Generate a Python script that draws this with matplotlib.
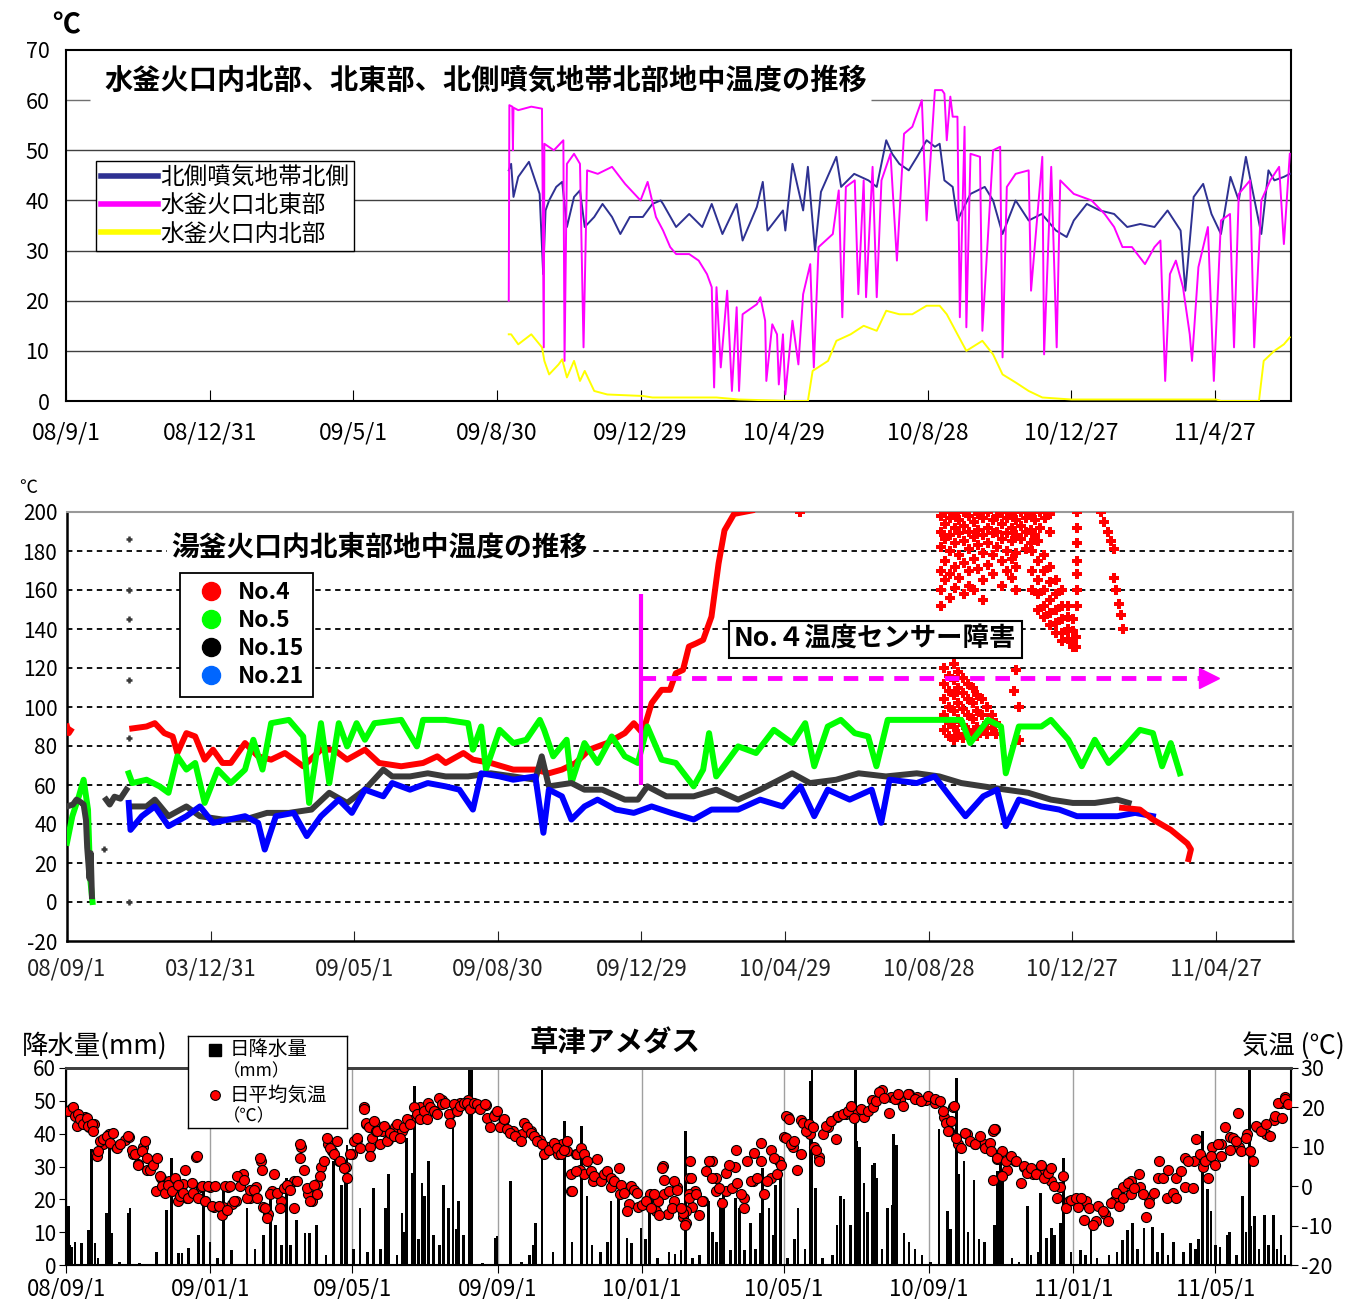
import matplotlib.pyplot as plt
import numpy as np
from matplotlib.lines import Line2D

plt.rcParams['font.family'] = ['Noto Sans CJK JP', 'DejaVu Sans']
plt.rcParams['axes.unicode_minus'] = False

# x values are days counted from 2008-09-01

# ---- panel 1: 水釜 (day, degC)
nw_north = [(373, 46), (375, 47.3), (377, 40.7), (381, 44.7), (390, 47.7), (399, 41.3), (402, 25.3), (404, 38),
            (407, 40), (413, 42.7), (418, 43.7), (422, 34.7), (428, 40.7), (433, 42), (437, 34.7), (445, 36.7),
            (452, 39.3), (460, 36.7), (467, 33.3), (475, 36.7), (486, 36.7), (494, 39.3), (501, 40), (503, 39.3),
            (514, 34.7), (525, 37.3), (536, 34.7), (544, 39.3), (553, 33.3), (565, 39.3), (570, 32), (582, 38.7),
            (587, 43.7), (591, 34), (604, 38), (606, 34), (612, 47.3), (621, 38), (625, 46.7), (631, 30),
            (636, 41.7), (649, 48.7), (653, 42.7), (664, 45.3), (676, 44), (683, 42.7), (691, 52), (696, 49.3),
            (702, 47.3), (710, 46), (717, 48.7), (725, 52), (732, 50.7), (736, 51.3), (740, 44), (747, 42.7),
            (751, 36), (762, 41.3), (774, 42.7), (781, 40), (789, 33.3), (800, 40), (811, 36), (822, 37.3),
            (834, 34), (843, 32.7), (849, 36), (860, 39.3), (871, 38), (883, 37.3), (894, 34.7), (905, 35.3),
            (917, 34.7), (928, 38), (939, 34), (943, 22), (950, 40.7), (958, 43.3), (965, 37.3), (973, 33.3),
            (981, 44.7), (988, 40), (994, 48.7), (999, 42.7), (1007, 33.3), (1013, 46), (1018, 44), (1026, 44.7),
            (1031, 45.3)]
mizugama_ne = [(373, 20), (373.5, 59), (376, 58.7), (376.5, 50), (377, 58.5), (381, 58), (392, 58.7), (401, 58.3),
               (402.5, 10.7), (403, 51.3), (411, 50), (419, 52), (420, 8), (422, 47.3), (428, 49.3), (433, 47.3),
               (436, 10.7), (439, 46), (448, 45.3), (460, 46.7), (471, 43.3), (484, 40), (490, 43.7), (497, 36.7),
               (503, 34), (509, 30.7), (514, 29.3), (525, 29.3), (533, 28), (540, 25.3), (544, 22.7), (546, 2.7),
               (548, 22.7), (551.6, 6.7), (557, 22), (561, 2), (565, 18.7), (567, 2), (570, 17.3), (582, 19.3),
               (585, 20.7), (589, 16), (590, 4), (595, 15.3), (599, 13.3), (600.5, 3.3), (604, 13.3), (606, 1.3),
               (612, 16), (617, 7.3), (621, 21.3), (627, 27.3), (630, 6.7), (634, 30.7), (646, 33.3), (651, 42),
               (654, 16.7), (657, 42.7), (664.5, 44), (667.5, 21.3), (672, 44), (674, 20.7), (679.5, 46.7),
               (683, 20.7), (687, 44), (694.6, 49.3), (700, 28), (706, 53.3), (713, 54.7), (721, 60), (725, 36),
               (732, 62), (738, 62), (740, 61.3), (742, 52), (745, 60.7), (747, 56.7), (751, 56.7), (753, 16.7),
               (757, 54.7), (758.5, 14.7), (762, 49.3), (770, 48.7), (772, 14), (781, 50), (787, 50.7), (789, 8.7),
               (792.6, 42.7), (800, 45.3), (811, 46), (813, 22), (822.5, 48.7), (824, 9.3), (830, 46.7),
               (834.6, 10.7), (837.6, 44), (849, 41.3), (864, 40), (875, 37.3), (883, 34.7), (890, 30.7),
               (898, 30.7), (909, 27.3), (917, 30.7), (922, 32), (926, 4), (930, 25.3), (935, 28), (941, 22.7),
               (946.7, 13.3), (948.6, 8), (954, 26.7), (962, 34.7), (967, 4), (973, 36), (980.6, 37.3),
               (984, 10.7), (988, 41.3), (997.5, 44), (1001, 10.7), (1007, 40), (1014.5, 44), (1022, 46.7),
               (1026, 31.3), (1031, 49.3)]
mizugama_in = [(373, 13.3), (375, 13.3), (381, 11.3), (392, 13.3), (401, 10.7), (403, 8), (407, 5.3), (415, 7.3),
               (418, 8.3), (422, 4.7), (428, 8), (433, 4), (437, 6), (445, 2), (456, 1.3), (486, 1), (494, 0.7),
               (548, 0.7), (567, 0.3), (612, 0), (625, 0), (629, 6), (642, 8), (649, 12), (661, 13.3), (672, 15),
               (683, 14), (691, 18), (702, 17.3), (713, 17.3), (725, 19), (736, 19), (742, 17.3), (751, 13.3),
               (758.5, 10), (772, 12), (781, 9.3), (789, 5.3), (800, 3.7), (811, 2), (822.5, 0.7), (847, 0.3),
               (969, 0.3), (973, 0), (1005, 0), (1009, 8), (1018, 10), (1026, 11.3), (1031, 12.7)]
p1_names = ['北側噴気地帯北側', '水釜火口北東部', '水釜火口内北部']
p1_ticks = ['08/9/1', '08/12/31', '09/5/1', '09/8/30', '09/12/29', '10/4/29', '10/8/28', '10/12/27', '11/4/27']

# ---- panel 2: 湯釜 (day, degC)
no4_start = [(0, 90), (1.5, 86.6), (3, 88)]
no4 = [(55, 89), (67, 90), (74, 91.7), (82, 86.6), (89, 84.9), (93, 76.4), (100.6, 86.6), (108, 84.9), (116, 73),
       (123, 78.1), (131, 71.3), (138, 71.3), (150, 81.5), (161, 74.7), (172, 73), (183.6, 76.4), (199, 69.6),
       (214, 78.1), (225, 78.1), (236, 73), (251, 78.1), (263, 71.3), (281.6, 69.6), (300, 71.3), (312, 74.7),
       (319, 71.3), (334, 76.4), (342, 73), (357, 71.3), (376, 67.9), (394.6, 67.9), (406, 66), (417, 67.9),
       (428.6, 71.3), (440, 78.1), (455, 81.5), (470, 86.6), (477.6, 91.7), (485, 86.6), (492.6, 102),
       (501, 108.8), (508, 108.8), (513, 117.3), (519, 119), (524, 131), (530, 132.6), (536, 134.4),
       (543, 146.3), (549, 173.6), (554, 190.6), (562, 199), (577, 200.8)]
no4_end = [(889, 48.3), (904, 47.4), (915, 42.3), (930, 37), (938, 33), (944, 30), (947, 27), (945, 22)]
no4_faulty = [(618, 200), (736, 198), (736, 190), (736, 182), (736, 170), (736, 160), (736, 152), (740, 200),
              (740, 194), (740, 186), (740, 175), (740, 165), (744, 197), (744, 188), (744, 180), (744, 168),
              (744, 156), (748, 199), (748, 192), (748, 184), (748, 172), (748, 161), (752, 196), (752, 189),
              (752, 178), (752, 166), (756, 200), (756, 193), (756, 185), (756, 174), (756, 158), (760, 198),
              (760, 190), (760, 181), (760, 170), (760, 162), (764, 195), (764, 187), (764, 176), (764, 160),
              (768, 199), (768, 191), (768, 183), (768, 171), (772, 197), (772, 188), (772, 179), (772, 165),
              (772, 155), (776, 200), (776, 192), (776, 184), (776, 173), (780, 196), (780, 189), (780, 178),
              (780, 168), (784, 198), (784, 190), (784, 182), (788, 200), (788, 194), (788, 186), (788, 175),
              (788, 162), (792, 197), (792, 189), (792, 180), (792, 170), (796, 199), (796, 192), (796, 185),
              (796, 176), (796, 166), (800, 196), (800, 188), (800, 179), (800, 172), (800, 160), (804, 200),
              (804, 193), (804, 186), (808, 197), (808, 190), (808, 181), (812, 199), (812, 191), (812, 184),
              (816, 196), (816, 188), (820, 200), (820, 192), (824, 197), (828, 199), (828, 190),
              (813, 189), (813, 180), (813, 170), (813, 160), (818, 185), (818, 175), (818, 165), (818, 158),
              (818, 150), (823, 178), (823, 170), (823, 160), (823, 152), (823, 146), (828, 172), (828, 164),
              (828, 155), (828, 148), (828, 142), (833, 165), (833, 158), (833, 150), (833, 143), (833, 138),
              (838, 160), (838, 152), (838, 145), (838, 138), (838, 134), (843, 152), (843, 146), (843, 140),
              (843, 135), (848, 145), (848, 139), (848, 133), (848, 131), (850, 136), (850, 131),
              (851, 200), (851, 192), (851, 184), (851, 175), (851, 168), (851, 160), (851, 152),
              (871, 200), (874, 195), (877, 190), (880, 185), (882, 181), (882, 166), (884, 160), (886, 153),
              (888, 147), (890, 140),
              (739, 120), (739, 112), (739, 104), (739, 96), (739, 88), (743, 116), (743, 108), (743, 100),
              (743, 92), (743, 85), (747, 122), (747, 114), (747, 106), (747, 98), (747, 90), (747, 83),
              (751, 118), (751, 110), (751, 102), (751, 94), (751, 86), (755, 115), (755, 107), (755, 99),
              (755, 91), (755, 84), (759, 112), (759, 104), (759, 96), (759, 88), (763, 110), (763, 102),
              (763, 94), (763, 86), (767, 106), (767, 98), (767, 90), (767, 85), (771, 104), (771, 96), (771, 88),
              (775, 100), (775, 92), (775, 86), (779, 96), (779, 89), (783, 92), (783, 86),
              (800, 119), (798, 108), (802, 100), (802, 83)]
no5_start = [(0, 30.4), (4.5, 44), (10, 54.2), (14, 62.7), (17.7, 47.4), (19.6, 11.6), (21.5, 0)]
no5 = [(52, 66), (55, 61), (67, 62.7), (78, 59.3), (85.5, 56), (93, 74.7), (100.6, 67.9), (108, 71.3), (116, 50.8),
       (127, 67.9), (138, 61), (150, 67.9), (157, 83.2), (164.7, 67.9), (172, 91.7), (187, 93.4), (199, 84.9),
       (204, 50.8), (214, 91.7), (221, 61), (229, 91.7), (236, 79.8), (244, 91.7), (251, 83.2), (259, 91.7),
       (281.6, 93.4), (294.8, 79.8), (300, 93.4), (319, 93.4), (338, 91.7), (342, 78.1), (349, 90), (353, 67.9),
       (364.5, 88.3), (376, 81.5), (387, 83.2), (398.4, 93.4), (402, 88.3), (409.7, 74.7), (421, 83.2), (425, 61),
       (436, 81.5), (447, 71.3), (459, 84.9), (470, 74.7), (481, 71.3), (489, 90), (501, 73), (513, 71.3),
       (528, 59.3), (536, 67.9), (541, 86.6), (547, 64.4), (565.5, 79.8), (580.6, 76.4), (595.6, 88.3),
       (611, 81.5), (622, 91.7), (629.6, 69.6), (641, 90), (652, 93.4), (663.7, 86.6), (675, 84.9), (682, 69.6),
       (691.5, 93.4), (716, 93.4), (738.5, 93.4), (753.5, 93.4), (761, 81.5), (776, 93.4), (787, 90), (791, 66),
       (802, 90), (821, 90), (829, 93.4), (843.7, 83.2), (855, 69.6), (866, 83.2), (877.6, 71.3), (889, 78.1),
       (904, 88.3), (915, 86.6), (922.7, 69.6), (930, 81.5), (937.7, 66)]
no15_start = [(0, 49), (5, 50), (8, 52.5), (12, 51), (14, 50), (16, 42), (17, 28), (18, 20), (19, 12), (20, 25), (21, 3)]
no15_early = [(33, 52.5), (36, 50), (40, 54), (45, 53), (50, 57.6)]
no15_odd = [(52, 186), (52, 160), (52, 145), (52, 114), (52, 84), (52, 0), (31, 27)]
no15 = [(55, 49), (67, 49), (74, 52.5), (85.5, 44), (100.6, 49), (112, 44), (131, 42.3), (150, 42.3), (168.5, 45.7),
        (187, 45.7), (206, 47.4), (221, 56), (236, 50.8), (251, 57.6), (266.5, 67.9), (274, 64.4), (289, 64.4),
        (304, 66), (319, 64.4), (338, 64.4), (357, 66), (376, 64.4), (394.6, 62.7), (400, 74.7), (406, 59.3),
        (425, 61), (436, 57.6), (451, 57.6), (470, 52.5), (481, 52.5), (489, 59.3), (505, 54.2), (528, 54.2),
        (547, 57.6), (565.5, 52.5), (584, 57.6), (611, 66), (626, 61), (648, 62.7), (667, 66), (690, 64.4),
        (716, 66), (735, 64.4), (753.5, 61), (772, 59.3), (791, 57.6), (810, 56), (829, 52.5), (847.5, 50.8),
        (866, 50.8), (885, 52.5), (894.5, 50.8)]
no21 = [(52, 50.8), (53.5, 37), (63, 44), (74, 49), (85.5, 38.9), (100.6, 44), (112, 49), (123, 40.6), (150, 44),
        (161, 40.6), (166.6, 26.9), (176, 44), (191, 45.7), (202, 33.8), (214, 44), (229, 52.5), (240, 45.7),
        (251, 57.6), (266.5, 54.2), (274, 61), (289, 57.6), (304, 61), (319, 59.3), (330.6, 57.6), (342, 47.4),
        (349, 66), (364.5, 64.4), (376, 62.7), (394.6, 64.4), (401.4, 35.5), (406, 57.6), (417, 54.2), (425, 42.3),
        (436, 49), (447, 52.5), (462.5, 47.4), (477.6, 45.7), (492.6, 49), (509, 45.7), (528, 42.3), (543, 47.4),
        (565.5, 47.4), (584, 52.5), (603, 49), (618, 59.3), (629.6, 44), (641, 57.6), (659.5, 52.5), (678, 57.6),
        (686, 40.6), (693, 62.7), (716, 61), (731, 64.4), (746, 52.5), (757, 44), (772, 54.2), (783.6, 57.6),
        (791, 38.9), (802, 52.5), (821, 49), (836, 47.4), (851, 44), (866, 44), (885, 44), (900, 45.7), (915, 44)]
p2_names = ['No.4', 'No.5', 'No.15', 'No.21']
p2_ticks = ['08/09/1', '03/12/31', '09/05/1', '09/08/30', '09/12/29', '10/04/29', '10/08/28', '10/12/27', '11/04/27']
fault_start = 484
fault_level = 115

# ---- panel 3: 草津アメダス
rain = [(2, 17.9), (3, 6), (5, 5.6), (7.6, 7.1), (13.3, 6.6), (18.9, 10.7), (20, 3), (21.7, 35.2), (24.5, 6.6),
        (27, 2), (34.4, 15.8), (36.7, 37.2), (38.6, 9.7), (45, 1), (52.7, 15.8), (54, 17.3), (62, 0.7), (76.7, 4),
        (85.2, 16.8), (89.4, 32.7), (95, 3.6), (98, 3.6), (103.5, 5.1), (112, 9.2), (116.2, 25.5), (121.9, 7.1),
        (128, 2), (133, 23), (140, 4.5), (153, 17.3), (160, 5), (167, 9.2), (172.7, 21.4), (177, 12.2), (182, 6),
        (186.7, 26.5), (190, 6), (195, 13.8), (202, 9.7), (206, 9.7), (212, 12.2), (220, 3), (226, 31.6),
        (233, 24.5), (236, 26), (237.6, 36.7), (243, 5), (248.8, 17.3), (255, 4), (260, 23.5), (266, 5),
        (270, 17.3), (272.8, 27.6), (280, 3), (284, 15.8), (286, 10), (288, 38.8), (292.6, 28), (294.8, 54.6),
        (298, 8), (301, 25), (303, 21), (306.7, 31.6), (311, 9), (316, 6), (319.3, 24.5), (323.6, 17.3),
        (327.3, 47), (330, 11), (332, 19.4), (336, 9), (341, 75), (342, 70), (343, 65), (352, 0.5), (363, 8.2),
        (364.5, 8.7), (375.8, 25.5), (385, 1), (392, 3), (395, 6), (397, 12.8), (402.6, 65), (412, 4),
        (421.5, 43.9), (428, 7.1), (436, 42.3), (440.7, 20.9), (445, 6), (452, 4), (458, 7), (461, 19.4),
        (467.5, 22.4), (474.6, 8.2), (478, 6.6), (486.4, 11.2), (490, 8), (493.7, 17.3), (500, 2), (510, 4),
        (515, 3.5), (520, 4.5), (524, 40.8), (530, 2), (536, 3), (543.6, 19.4), (547, 10), (550, 7),
        (553.5, 20.4), (556.3, 22.4), (562, 4.5), (566, 20.4), (569.8, 17.3), (574, 4.5), (579, 12.8), (583, 5),
        (587.4, 15.8), (588.8, 29.6), (594.4, 17.3), (598, 9), (600, 24.5), (604.3, 26.5), (610, 2), (616, 8),
        (619, 17.3), (625, 5), (629.7, 56), (631, 62), (634, 23.5), (640, 2), (648, 3), (652, 12.2), (655, 20.9),
        (658, 20), (663.6, 12.2), (667.8, 62), (669, 37.8), (671, 36), (674.8, 25), (678, 16), (682, 30.6),
        (684, 31), (686, 26.5), (690, 5), (694.5, 17.3), (698.7, 18.4), (700, 39.8), (702.5, 36.7), (708.7, 9.7),
        (713, 7), (718, 5), (724, 3), (731, 1), (738.3, 41.3), (745.4, 16.3), (748, 11), (753.3, 57),
        (755.2, 27.6), (759.4, 31.6), (763, 10), (768, 26), (772, 8), (777, 7), (785, 12.2), (787.7, 28.6),
        (790.5, 35.7), (792, 26.5), (800, 2), (806, 1), (813, 17.9), (816, 3), (822, 4), (824.4, 21.9),
        (829.4, 8.2), (833.4, 11.2), (836, 9), (841.3, 12.8), (843.6, 32.7), (850, 4), (858, 4.6), (862, 3),
        (866.7, 12.2), (872, 2), (882, 3.1), (889, 4), (893.5, 7.7), (897.7, 10.7), (902, 12.8), (906, 5),
        (911.8, 11.2), (918.9, 11.7), (923, 4), (927.4, 9.7), (932, 3), (936.6, 7.1), (945, 4), (950.8, 6.6),
        (955, 5), (958, 8), (961.2, 40.8), (965.5, 23), (968.3, 16.3), (972, 6), (976, 5.5), (982.4, 9.2),
        (984, 10), (990, 3), (995, 20.9), (998, 10), (1000.7, 65), (1002, 12), (1005, 14.8), (1009, 5),
        (1013.5, 15.3), (1017, 6), (1021.4, 15.3), (1024, 5), (1027.6, 9.2), (1031, 3)]
air_temp = [(0.8, 19.2), (4.5, 19.6), (8.3, 18.4), (12, 16.7), (16, 17.5), (19.6, 15), (23.4, 15.8), (25, 8.2),
            (31, 10.7), (36.6, 13.3), (42, 9.9), (50, 11.6), (53.6, 12.4), (57, 8.2), (61, 5.6), (65, 9.9),
            (68.7, 4), (72.5, 6.5), (76, -1.2), (80, 2.2), (84, 0.5), (87.5, 1.4), (91, -0.3), (95, -3.7),
            (98.9, 0.5), (102.6, -2.9), (110, 7.3), (114, -0.3), (117.7, -3.7), (121.5, -0.3), (125, -5.4),
            (133, -5.4), (136.6, -0.3), (140, -4.6), (144, -3.7), (150, 3.1), (155.5, -2.9), (161, -0.3),
            (165, 6.5), (166.8, -5.4), (170.6, -7.1), (174, -1.2), (182, -3.7), (185.7, -0.3), (193, 1.4),
            (199, 9.9), (204.5, -2), (208, -3.7), (212, 0.5), (216, 4.8), (221.5, 10.7), (225, 9), (231, 6.5),
            (236.6, 4.8), (242, 8.2), (246, 11.6), (251.7, 20.1), (253.6, 15.8), (257, 9.9), (261, 15.8),
            (267, 14.1), (272.5, 11.6), (278, 15), (283.8, 14.1), (291, 16.7), (299, 20.1), (306, 21), (312, 19.2),
            (318, 21.8), (325, 18.4), (333, 21), (340, 21.8), (348, 20.1), (355.5, 20.5), (363, 18.4),
            (370.6, 16.7), (378, 14.1), (385.7, 13.3), (393, 14.1), (400.8, 11.6), (408, 9.9), (416, 8.2),
            (419.6, 10.7), (423.4, 9), (427, -1.2), (431, 8.2), (434.7, 4), (438.5, 3.1), (446, 1.4), (453.6, 2.2),
            (461, -0.3), (468.7, -2), (476, -4.6), (483.8, -5.4), (491, -3.7), (498.9, -6.3), (504.5, 5.2),
            (506, -2), (514, -3.7), (521.5, -7.9), (529, -5.4),
            (494, -2), (501, -3.7), (509, -7.1), (516.5, -0.3), (524, -6.3), (528, 6.5), (531.6, -1.2),
            (539, -3.7), (546.7, 6.5), (550, 2.2), (558, -1.2), (565.5, 4.8), (573, -2.9), (581, 1.4), (588, 6.5),
            (596, 2.2), (603, 6.5), (607, 12.4), (611, 17.5), (614.5, 9.9), (622, 16.7), (629.6, 13.3), (633, 9.9),
            (637, 7.3), (644.7, 15), (652, 17.5), (660, 18.4), (667, 19.2), (675, 17.5), (682, 21.8), (690, 24.3),
            (697.5, 22.6), (705, 21.8), (712.6, 23.5), (720, 22.6), (727.7, 21.8), (735, 21), (742.8, 17.5),
            (746.5, 14.1), (750, 20.1), (754, 10.7), (761.6, 13.3), (769, 10.7), (776.7, 10.7), (784, 14.1),
            (792, 9), (795.5, 4), (803, 6.5), (810.6, 4.8), (818, 3.1), (825.7, 4), (833, 1.4), (840.8, -0.3),
            (848, -3.7), (856, -5.4), (863, -3.7), (871, -8.8), (878.5, -7.1), (886, -3.7), (893.6, -0.3),
            (901, 1.4), (908.7, -0.3), (916, -2.9), (923.7, 2.2), (931, -2.9), (938.8, 2.2), (946, -0.3),
            (954, 6.5), (961.5, 4.8), (969, 9.9), (976.5, 10.7), (984, 12.4), (992, 9.9), (999, 13.3), (1007, 15),
            (1014.5, 13.3), (1022, 16.7), (1027.5, 21), (1031, 22.6), (1033, 21),
            (2, 19.1), (5.6, 20), (7.6, 17.8), (10.4, 18.3), (9, 15.3), (11.8, 17), (14.7, 15.7), (17.5, 17.4),
            (18.9, 15.3), (21.7, 15.7), (23.1, 14), (26, 7.6), (27.4, 8.9), (28.8, 11.5), (31.6, 11.9),
            (34.4, 12.7), (37.2, 11), (40.1, 13.6), (42.9, 9.8), (45.7, 10.6), (52.7, 12.7), (55.6, 9.3),
            (58.4, 8.1), (61.2, 5.5), (64, 8.9), (66.9, 11.5), (68.3, 7.2), (71.1, 4.2), (73.9, 5.5), (76.7, 7.2),
            (79.6, 2.5), (81, 0), (83.8, -1.7), (86.6, 0.4), (89.4, -1.3), (92.3, 2.1), (95.1, 0.4), (96.5, -2.6),
            (99.3, -1.7), (100.7, 4.2), (103.5, -3), (106.4, 0.8), (107.8, -1.7), (110.6, 7.6), (112, -3),
            (114.8, 0), (117.7, -3.8), (120.5, 0), (123.3, -5.1), (126.2, 0), (129, -5.1), (131.8, -7.2),
            (134.6, 0), (136, -6), (138.9, 0), (141.7, -3.8), (144.5, 2.5), (147.3, 0), (150.2, 1.7), (153, -3),
            (155.8, -0.9), (158.6, -0.9), (161.5, -3), (164.3, 7.2), (165.7, 4.2), (168.5, -5.5), (170, -8.1),
            (172.8, -2.1), (175.6, 3), (178.4, -1.7), (181.3, -5.5), (184.1, -0.4), (186.9, 0.4), (189.7, -0.9),
            (192.6, -5.5), (195.4, 1.3), (198.2, 10.6), (198.2, 7.2), (201, 4.2), (203.9, -0.4), (206.7, -3.8),
            (209.5, 0.4), (212.3, -2.1), (215.2, 2.5), (218, 6.4), (220.8, 12.3), (223.6, 9.8), (226.5, 8.1),
            (229.3, 11.5), (232.1, 6.4), (234.9, 4.7), (237.8, 2.1), (240.6, 8.1), (243.4, 11.5), (246.2, 12.3),
            (249, 9.8), (251.9, 19.5), (253.3, 16.1), (256.1, 14.9), (259, 12.3), (261.8, 14),
            (257.3, 7.6), (260.1, 16.6), (263, 14), (265.8, 10.6), (268.6, 15.3), (271.4, 11.5), (274.2, 13.6),
            (277.1, 12.7), (279.9, 15.7), (282.7, 12.3), (285.5, 14.9), (288.3, 17), (291.2, 15.7), (294, 20),
            (296.8, 18.3), (299.6, 17), (302.5, 19.1), (305.3, 17), (308.1, 20), (310.9, 19.1), (313.8, 18.3),
            (315.2, 22.5), (318, 20.8), (320.8, 21.2), (323.6, 18.3), (325.1, 16.1), (327.9, 20.8), (330.7, 19.1),
            (333.5, 20.4), (336.4, 21.2), (339.2, 21.2), (342, 19.5), (344.8, 21.2), (347.7, 20.8), (350.5, 19.5),
            (354.7, 20.8), (356.1, 17.4), (358.9, 14.9), (361.8, 17.8), (364.6, 19.1), (367.4, 14.9), (370.2, 17),
            (373.1, 14.4), (375.9, 13.6), (380.1, 12.7), (384.4, 11.5), (387.2, 16.1), (390, 14.9), (392.9, 13.6),
            (395.7, 12.7), (398.5, 11.5), (402.7, 10.6), (404.1, 8.1), (408.4, 9.3), (412.6, 11), (415.5, 9.8),
            (418.3, 8.1), (421.1, 9.3), (423.9, 11.5), (426.8, 3), (428.2, -1.3), (431, 3.8), (432.4, 8.1),
            (435.2, 9.8), (438.1, 8.1), (440.9, 6.4), (443.7, 3.8), (446.5, 2.5), (449.4, 6.8), (452.2, 1.3),
            (455, 3), (457.8, 3.8), (460.7, 2.1), (463.5, 1.3), (467.7, 4.7), (469.1, 0.4), (472, -1.7),
            (474.8, -6.4), (477.6, 0), (480.4, -0.9), (483.3, -1.7), (487.5, -4.7), (490.3, -3.8), (494.5, -5.5),
            (497.4, -2.1), (501.6, -7.2), (504.4, 4.7), (505.8, 1.7), (510.1, -1.3), (512.9, -5.5), (514.3, 1.3),
            (517.1, -0.9), (521.4, -6.8), (524.2, -9.4), (527, 2.1), (527, -2.1),
            (519.7, -5.5), (523.9, -9.8), (526.8, -3), (528.2, 2.1), (532.4, -2.1), (535.2, -7.2), (538.1, -3.8),
            (540.9, 3.8), (543.7, 6.4), (546.5, 2.1), (549.4, -1.3), (552.2, -0.4), (555, -4.3), (557.8, 3.4),
            (560.7, 5.5), (563.5, -0.4), (566.3, 9.3), (567.8, 0.8), (570.6, -2.1), (573.4, -5.5), (576.2, 6.4),
            (579.1, 1.3), (581.9, 8.5), (584.7, 2.1), (587.5, 11), (590.4, -2.1), (593.2, 1.3), (596, 9.3),
            (598.8, 7.2), (601.7, 3), (604.5, 5.5), (608.7, 17.8), (611.6, 17), (608.7, 12.3), (613, 10.6),
            (615.8, 11.5), (618.6, 4.2), (621.5, 8.1), (622.9, 16.1), (625.7, 14), (628.5, 15.7), (631.4, 14.9),
            (634.2, 9.3), (637, 6.4), (639.9, 13.2), (642.7, 15.3), (646.9, 16.6), (651.2, 11.9), (652.6, 17.8),
            (656.8, 18.3), (661.1, 19.1), (663.9, 20.4), (666.7, 17.4), (672.4, 19.5), (678, 19.1), (682.3, 20),
            (685.1, 21.7), (687.9, 23.8), (692.2, 22.5), (696.4, 18.7), (700.7, 22.1), (703.5, 23.4),
            (707.7, 20.4), (712, 23.4), (717.6, 22.1), (723.3, 21.7), (728.9, 22.9), (734.6, 22.1), (738.8, 21.7),
            (741.6, 19.1), (744.5, 16.1), (745.9, 14), (748.7, 16.6), (751, 20.4), (753, 12.3), (757.3, 9.8),
            (760.1, 13.6), (764.3, 11.5), (768.6, 10.6), (772.8, 12.7), (777, 9.8), (781.3, 11), (784.1, 1.7),
            (785.5, 14.4), (787, 6.8),
            (782, 8.9), (784.9, 14.4), (787.7, 7.2), (792, 2.5), (794.8, 6.4), (799, 7.6), (803.2, 6.4),
            (807.5, 0.8), (810.3, 5.1), (813.1, 3.4), (816, 4.7), (820.2, 3), (824.4, 5.5), (827.2, 2.1),
            (830.1, 3.4), (832.9, 4.7), (835.7, 0), (838.5, -3), (842.8, 2.5), (845.6, -5.5), (849.8, -3.4),
            (854.1, -3), (858.3, -3), (861.1, -8.5), (865.4, -5.5), (868.2, -9.8), (872.4, -5.1), (876.7, -6.4),
            (880.9, -8.9), (883.7, -4.3), (888, -1.7), (890.8, -5.1), (893.6, -3), (897.9, 0.8), (900.7, -2.1),
            (903.5, -0.4), (907.8, 3), (910.6, -2.1), (913.4, -7.7), (916.2, -4.3), (920.5, -1.7), (924.7, 6.4),
            (927.6, 2.1), (931.8, 4.2), (936.1, -1.7), (938.9, -3), (943.1, 3.8), (946, 7.2), (948.8, 6.4),
            (953, -0.4), (955.9, 11.9), (958.7, 8.1), (962.9, 6.4), (965.8, 2.1), (968.6, 7.6), (971.4, 5.5),
            (974.2, 10.6), (977.1, 7.6), (979.9, 14.9), (984.1, 9.3), (986.9, 12.3), (989.8, 11.5), (991.2, 18.7),
            (994, 8.9), (998.3, 12.3), (1001.1, 8.9), (1003.9, 6.4), (1006.7, 15.3), (1011, 14), (1015.2, 15.7),
            (1018.1, 12.7), (1022.3, 17.8), (1025.1, 21.2), (1028, 17.4), (1030.8, 22.1), (1033.6, 20.8)]
p3_tick_days = [0, 122, 242, 365, 487, 607, 730, 852, 972]
p3_ticks = ['08/09/1', '09/01/1', '09/05/1', '09/09/1', '10/01/1', '10/05/1', '10/09/1', '11/01/1', '11/05/1']


def xy(pairs):
    a = np.array(pairs, dtype=float)
    return a[:, 0], a[:, 1]


W, H = 1348, 1299
fig = plt.figure(figsize=(W / 100, H / 100), dpi=100)


def box(l, t, r, b):
    return [l / W, 1 - b / H, (r - l) / W, (b - t) / H]


# ================= panel 1
ax1 = fig.add_axes(box(66, 50, 1291, 401))
ax1.set_xlim(0, 1032)
ax1.set_ylim(0, 70)
for v in [10, 20, 30, 40, 50]:
    ax1.axhline(v, color='#404040', lw=1, zorder=1)
ax1.hlines(60, 0, 20, color='#707070', lw=1, zorder=1)
ax1.hlines(60, 678, 1032, color='#707070', lw=1, zorder=1)
x, y = xy(mizugama_in)
ax1.plot(x, y, color='#ffff00', lw=1.4, zorder=3)
x, y = xy(nw_north)
ax1.plot(x, y, color='#2e3192', lw=1.4, zorder=4)
x, y = xy(mizugama_ne)
ax1.plot(x, y, color='#ff00ff', lw=1.4, zorder=5)
ax1.set_xticks(np.arange(0, 969, 121))
ax1.set_xticklabels(p1_ticks)
ax1.set_yticks(range(0, 71, 10))
ax1.tick_params(axis='x', direction='in', length=8, labelsize=16.5, pad=15)
ax1.tick_params(axis='y', length=0, labelsize=15.5, pad=12)
for s in ax1.spines.values():
    s.set_linewidth(1.5)
ax1.text(0.343, 0.912, '水釜火口内北部、北東部、北側噴気地帯北部地中温度の推移', transform=ax1.transAxes,
         ha='center', va='center', fontsize=20.3, fontweight='bold')
h1 = [Line2D([], [], color=c, lw=4) for c in ['#2e3192', '#ff00ff', '#ffff00']]
lg1 = ax1.legend(h1, p1_names, loc='upper left', bbox_to_anchor=(0.0245, 0.684), borderaxespad=0,
                 fontsize=17, handlelength=2.4, handletextpad=0.1, labelspacing=0.22, borderpad=0.22,
                 fancybox=False, framealpha=1, edgecolor='black')
lg1.get_frame().set_linewidth(1)
lg1.set_zorder(10)
fig.text(66 / W, 1 - 25 / H, '℃', ha='center', va='center', fontsize=20, fontweight='bold')

# ================= panel 2
ax2 = fig.add_axes(box(67, 512, 1293, 941))
ax2.set_xlim(0, 1033)
ax2.set_ylim(-20, 200)
for v in range(0, 181, 20):
    ax2.axhline(v, color='black', lw=1.3, ls=(0, (3, 2.5)), zorder=1)
red, green, gray, blue = '#ff0000', '#00ff00', '#3a3a3a', '#0000ff'
bw = 4.3
x, y = xy(no4_start)
ax2.plot(x, y, color=red, lw=bw, zorder=3)
x, y = xy(no4)
ax2.plot(x, y, color=red, lw=bw, zorder=3)
x, y = xy(no5_start)
ax2.plot(x, y, color=green, lw=bw, zorder=4)
x, y = xy(no5)
ax2.plot(x, y, color=green, lw=bw, zorder=4)
x, y = xy(no15_start)
ax2.plot(x, y, color=gray, lw=bw, zorder=5)
x, y = xy(no15_early)
ax2.plot(x, y, color=gray, lw=bw, zorder=5)
x, y = xy(no15)
ax2.plot(x, y, color=gray, lw=bw, zorder=5)
x, y = xy(no15_odd)
ax2.plot(x, y, ls='', marker='+', ms=5, mew=1.8, color=gray, zorder=5, clip_on=False)
x, y = xy(no21)
ax2.plot(x, y, color=blue, lw=bw, zorder=6)
x, y = xy(no4_end)
ax2.plot(x, y, color=red, lw=bw, zorder=7)
x, y = xy(no4_faulty)
ax2.plot(x, y, ls='', marker='P', ms=7.5, mew=0, color=red, zorder=3)
# sensor fault marking
ax2.vlines(fault_start, 60, 158, color='#ff00ff', lw=3, zorder=8)
ax2.hlines(fault_level, fault_start, 958, color='#ff00ff', lw=3.5, linestyles=(0, (3, 2.2)), zorder=8)
ax2.plot([962], [fault_level], marker='>', ms=14, color='#ff00ff', ls='', zorder=8)
ax2.text(681, 134.6, 'No.４温度センサー障害', ha='center', va='center', fontsize=19, fontweight='bold',
         zorder=9, bbox=dict(boxstyle='square,pad=0.2', fc='white', ec='black', lw=1.5))
ax2.text(263, 182, '湯釜火口内北東部地中温度の推移', ha='center', va='center', fontsize=20, fontweight='bold',
         zorder=9, bbox=dict(boxstyle='square,pad=0.15', fc='white', ec='none'))
h2 = [Line2D([], [], ls='', marker='o', ms=13, color=c) for c in [red, green, 'black', '#0066ff']]
lg2 = ax2.legend(h2, p2_names, loc='upper left', bbox_to_anchor=(0.092, 0.857), borderaxespad=0,
                 prop={'weight': 'bold', 'size': 16.5}, handletextpad=0.2, labelspacing=0.22, borderpad=0.35,
                 fancybox=False, framealpha=1, edgecolor='black')
lg2.get_frame().set_linewidth(1.3)
lg2.set_zorder(10)
ax2.set_xticks(np.arange(0, 969, 121))
ax2.set_xticklabels(p2_ticks)
ax2.set_yticks(range(-20, 201, 20))
ax2.tick_params(axis='x', direction='in', length=7, labelsize=16, pad=12, colors='#222222')
ax2.tick_params(axis='y', length=0, labelsize=15, pad=7)
ax2.spines['left'].set_linewidth(1.8)
ax2.spines['bottom'].set_linewidth(1.8)
ax2.spines['top'].set_color('#999999')
ax2.spines['right'].set_color('#999999')
ax2.spines['top'].set_linewidth(1.5)
ax2.spines['right'].set_linewidth(1.5)
fig.text(28 / W, 1 - 488 / H, '℃', ha='center', va='center', fontsize=13)

# ================= panel 3
ax3 = fig.add_axes(box(66, 1068, 1291, 1265))
ax3.set_xlim(0, 1036)
ax3.set_ylim(0, 60)
ax3.set_xticks(p3_tick_days)
ax3.set_xticklabels(p3_ticks)
ax3.set_yticks(range(0, 61, 10))
ax3.grid(axis='x', color='#a0a0a0', lw=1)
ax3.set_axisbelow(True)
x, y = xy(rain)
ax3.bar(x, y, width=2.2, color='black', zorder=2)
ax3b = ax3.twinx()
ax3b.set_ylim(-20, 30)
ax3b.set_yticks(range(-20, 31, 10))
x, y = xy(air_temp)
ax3b.scatter(x, y, s=52, c='#ff0000', edgecolors='black', linewidths=0.8, zorder=3)
ax3.tick_params(axis='x', direction='out', length=6, labelsize=16, pad=3)
ax3.tick_params(axis='y', direction='out', length=5, labelsize=15, pad=2)
ax3b.tick_params(axis='y', direction='out', length=5, labelsize=15.5, pad=2)
ax3.spines['top'].set_color('#404040')
ax3.spines['top'].set_linewidth(2)
ax3b.spines['top'].set_color('#404040')
ax3b.spines['top'].set_linewidth(2)
for s in ['left', 'bottom']:
    ax3.spines[s].set_linewidth(1.5)
ax3b.spines['right'].set_linewidth(1.5)

fig.text(22 / W, 1 - 1046 / H, '降水量(mm)', ha='left', va='center', fontsize=19)
fig.text(1345 / W, 1 - 1046 / H, '気温 (℃)', ha='right', va='center', fontsize=19)
fig.text(615 / W, 1 - 1043 / H, '草津アメダス', ha='center', va='center', fontsize=20.5, fontweight='bold')

lax = fig.add_axes(box(188, 1036, 347, 1128))
lax.set_xlim(0, 1)
lax.set_ylim(0, 1)
lax.set_xticks([])
lax.set_yticks([])
for s in lax.spines.values():
    s.set_linewidth(1)
lax.plot([0.17], [0.85], marker='s', ms=8, color='black')
lax.plot([0.17], [0.36], marker='o', ms=7, mfc='#ff0000', mec='black', mew=0.8)
lax.text(0.26, 0.85, '日降水量', va='center', fontsize=14)
lax.text(0.22, 0.62, '（mm）', va='center', fontsize=12.5)
lax.text(0.26, 0.36, '日平均気温', va='center', fontsize=14)
lax.text(0.22, 0.13, '（℃）', va='center', fontsize=12.5)

fig.savefig('out.png', dpi=100)
